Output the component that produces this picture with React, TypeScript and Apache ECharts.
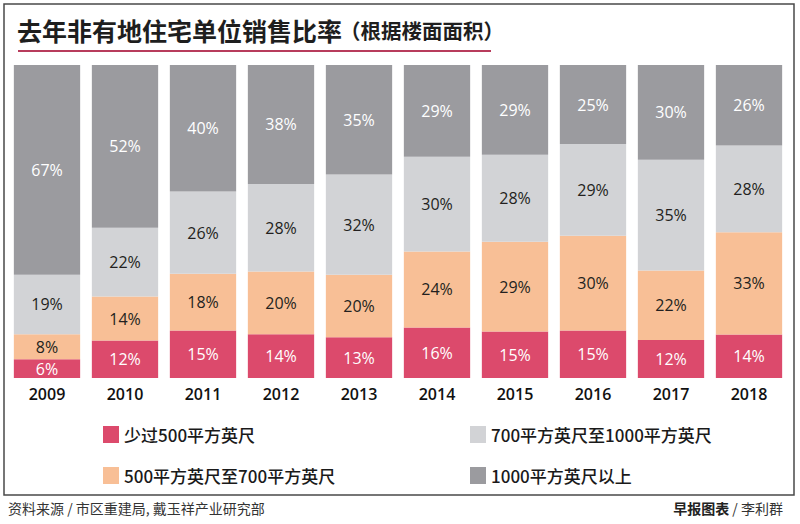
import React, { useEffect, useRef } from "react";
import * as echarts from "echarts";

const years = ["2009", "2010", "2011", "2012", "2013", "2014", "2015", "2016", "2017", "2018"];
const under500 = [6, 12, 15, 14, 13, 16, 15, 15, 12, 14];
const from500to700 = [8, 14, 18, 20, 20, 24, 29, 30, 22, 33];
const from700to1000 = [19, 22, 26, 28, 32, 30, 28, 29, 35, 28];
const over1000 = [67, 52, 40, 38, 35, 29, 29, 25, 30, 26];

const seriesNames = ["少过500平方英尺", "500平方英尺至700平方英尺", "700平方英尺至1000平方英尺", "1000平方英尺以上"];
const seriesColors = ["#dc4a6c", "#f8bf96", "#d2d3d6", "#9b9b9f"];
const labelColors = ["#ffffff", "#231f20", "#231f20", "#ffffff"];

const titleText = "去年非有地住宅单位销售比率";
const subtitleText = "（根据楼面面积）";
const sourceText = "资料来源 / 市区重建局, 戴玉祥产业研究部";
const creditBold = "早报图表";
const creditRest = " / 李利群";

const CJK = '"Noto Sans CJK SC", "Noto Sans", sans-serif';
const LATIN = '"Open Sans", "Noto Sans", sans-serif';

export default function App() {
  const ref = useRef<HTMLDivElement>(null);

  useEffect(() => {
    if (!ref.current) return;
    const chart = echarts.init(ref.current, null, { renderer: "svg" });
    const all = [under500, from500to700, from700to1000, over1000];
    const totals = years.map((_, i) => all.reduce((s, arr) => s + arr[i], 0));

    const series = all.map((arr, si) => ({
      name: seriesNames[si],
      type: "bar",
      stack: "total",
      barCategoryGap: "15%",
      data: arr.map((v, i) => (v / totals[i]) * 100),
      itemStyle: { color: seriesColors[si] },
      label: {
        show: true,
        position: "inside",
        formatter: (p: any) => arr[p.dataIndex] + "%",
        color: labelColors[si],
        fontSize: 16,
        fontFamily: LATIN,
      },
      emphasis: { disabled: true },
    }));

    const legendBase = {
      orient: "vertical",
      icon: "rect",
      itemWidth: 16,
      itemHeight: 17,
      itemGap: 24,
      selectedMode: false,
      textStyle: { fontSize: 17, fontFamily: CJK, fontWeight: 500, color: "#1a1a1a" },
    };

    chart.setOption({
      animation: false,
      backgroundColor: "#ffffff",
      grid: { left: 8, right: 12, top: 65, bottom: 146 },
      xAxis: {
        type: "category",
        data: years,
        axisLine: { show: false },
        axisTick: { show: false },
        axisLabel: { margin: 8, fontSize: 16, fontWeight: 600, fontFamily: LATIN, color: "#111111" },
      },
      yAxis: { type: "value", min: 0, max: 100, show: false },
      legend: [
        { ...legendBase, data: [seriesNames[0], seriesNames[1]], left: 98, top: 421 },
        { ...legendBase, data: [seriesNames[2], seriesNames[3]], left: 465, top: 421 },
      ],
      series,
      graphic: [
        {
          type: "rect",
          shape: { x: 4, y: 4, width: 790, height: 491 },
          style: { fill: "none", stroke: "#4a4a4a", lineWidth: 1.5 },
          silent: true,
        },
        {
          type: "text",
          x: 17,
          y: 30,
          style: {
            text: titleText,
            font: `bold 25px ${CJK}`,
            fill: "#1e1e1e",
            textVerticalAlign: "middle",
          },
        },
        {
          type: "text",
          x: 340,
          y: 30,
          style: {
            text: subtitleText,
            font: `bold 20.5px ${CJK}`,
            fill: "#1e1e1e",
            textVerticalAlign: "middle",
          },
        },
        {
          type: "line",
          shape: { x1: 18, y1: 51, x2: 491, y2: 51 },
          style: { stroke: "#b83c5c", lineWidth: 2 },
        },
        {
          type: "text",
          x: 8,
          y: 508,
          style: {
            text: sourceText,
            font: `14px ${CJK}`,
            fill: "#333333",
            textVerticalAlign: "middle",
          },
        },
        {
          type: "text",
          x: 783,
          y: 508,
          style: {
            text: `{b|${creditBold}}{r|${creditRest}}`,
            rich: {
              b: { fontSize: 14, fontWeight: "bold", fontFamily: CJK, fill: "#222222" },
              r: { fontSize: 14, fontFamily: CJK, fill: "#333333" },
            },
            textAlign: "right",
            textVerticalAlign: "middle",
          },
        },
      ],
    });
    return () => chart.dispose();
  }, []);

  return (
    <div
      ref={ref}
      style={{ position: "fixed", left: 0, top: 0, width: 800, height: 524, background: "#fff" }}
    />
  );
}
